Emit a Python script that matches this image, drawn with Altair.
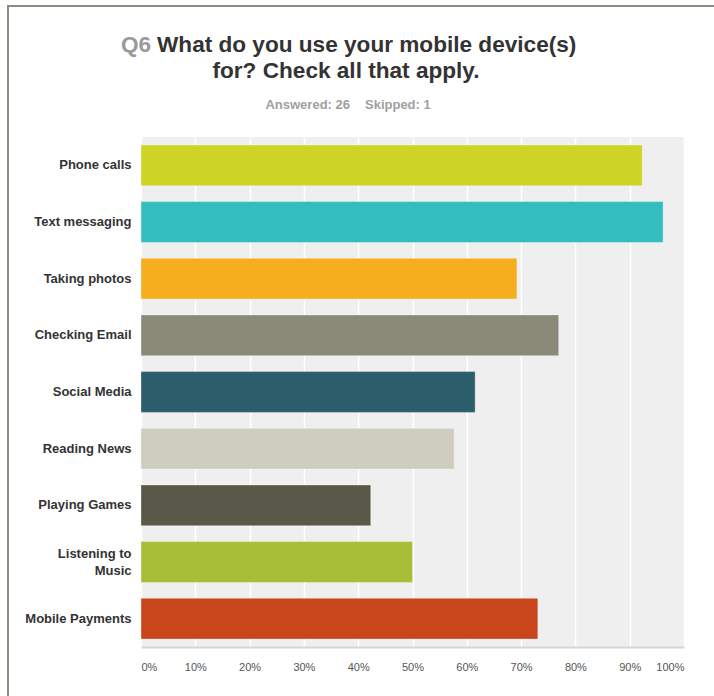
import altair as alt
import pandas as pd

categories = ["Phone calls", "Text messaging", "Taking photos", "Checking Email",
              "Social Media", "Reading News", "Playing Games", "Listening to Music",
              "Mobile Payments"]
percents = [92.31, 96.15, 69.23, 76.92, 61.54, 57.69, 42.31, 50.00, 73.08]
colors = ["#cdd425", "#33bdbf", "#f7ae1e", "#898b78", "#2c5d6b", "#cfcdc0",
          "#5a5849", "#a8bd38", "#c9461c"]
tick_values = [0, 10, 20, 30, 40, 50, 60, 70, 80, 90, 100]

title_q = "Q6"
title_line1 = "What do you use your mobile device(s)"
title_line2 = "for? Check all that apply."
answered = "Answered: 26"
skipped = "Skipped: 1"

df = pd.DataFrame({"category": categories, "percent": percents})

FONT = "Liberation Sans"

bars = alt.Chart(df).mark_bar(stroke="#ffffff", strokeOpacity=0.35, strokeWidth=1).encode(
    y=alt.Y("category:N", sort=categories,
            scale=alt.Scale(paddingInner=0.28, paddingOuter=0.14),
            axis=alt.Axis(title=None, ticks=False, domain=False, labelFont=FONT,
                          labelFontSize=13, labelFontWeight="bold", labelColor="#333333",
                          labelPadding=10, labelLimit=200, labelLineHeight=17,
                          labelOffset={"condition": {"test": "datum.value == 'Listening to Music'",
                                                     "value": -8}, "value": 0},
                          labelExpr="datum.label == 'Listening to Music' ? ['Listening to', 'Music'] : datum.label")),
    x=alt.X("percent:Q", scale=alt.Scale(domain=[0, 100], nice=False),
            axis=alt.Axis(title=None, values=tick_values, ticks=False, domain=True,
                          domainColor="#d6d6d6", domainWidth=2,
                          grid=True, gridColor="#ffffff", gridWidth=1.5,
                          labelFont=FONT, labelFontSize=11, labelColor="#555555",
                          labelPadding=14, labelFlush=True,
                          labelExpr="datum.value + '%'")),
    color=alt.Color("category:N", scale=alt.Scale(domain=categories, range=colors), legend=None),
)

def text_layer(txt, x, y, size, color, align, weight="bold"):
    return alt.Chart(pd.DataFrame({"t": [txt]})).mark_text(
        font=FONT, fontSize=size, fontWeight=weight, color=color, align=align,
        baseline="alphabetic").encode(text="t:N", x=alt.value(x), y=alt.value(y))

one = pd.DataFrame({"k": [0]})
border_top = alt.Chart(one).mark_rule(color="#8f8b80", strokeWidth=2).encode(
    x=alt.value(-133), x2=alt.value(573), y=alt.value(-131))
border_left = alt.Chart(one).mark_rule(color="#8f8b80", strokeWidth=2).encode(
    x=alt.value(-133), y=alt.value(-132), y2=alt.value(559))

chart = alt.layer(
    bars,
    text_layer(title_q, -20, -85, 22.6, "#9a9a9a", "left"),
    text_layer(title_line1, 16, -85, 22.6, "#333333", "left"),
    text_layer(title_line2, 205, -59, 22.6, "#333333", "center"),
    text_layer(answered, 209, -28, 13, "#a0a0a0", "right"),
    text_layer(skipped, 224, -28, 13, "#a0a0a0", "left"),
    border_top, border_left,
).properties(
    width=543, height=510,
    autosize=alt.AutoSizeParams(type="none"),
    padding={"left": 141, "top": 137, "right": 30, "bottom": 49},
    background="#ffffff",
).configure_view(fill="#efefef", stroke=None)

chart.save("out.html", embed_options={"renderer": "svg", "actions": False})
